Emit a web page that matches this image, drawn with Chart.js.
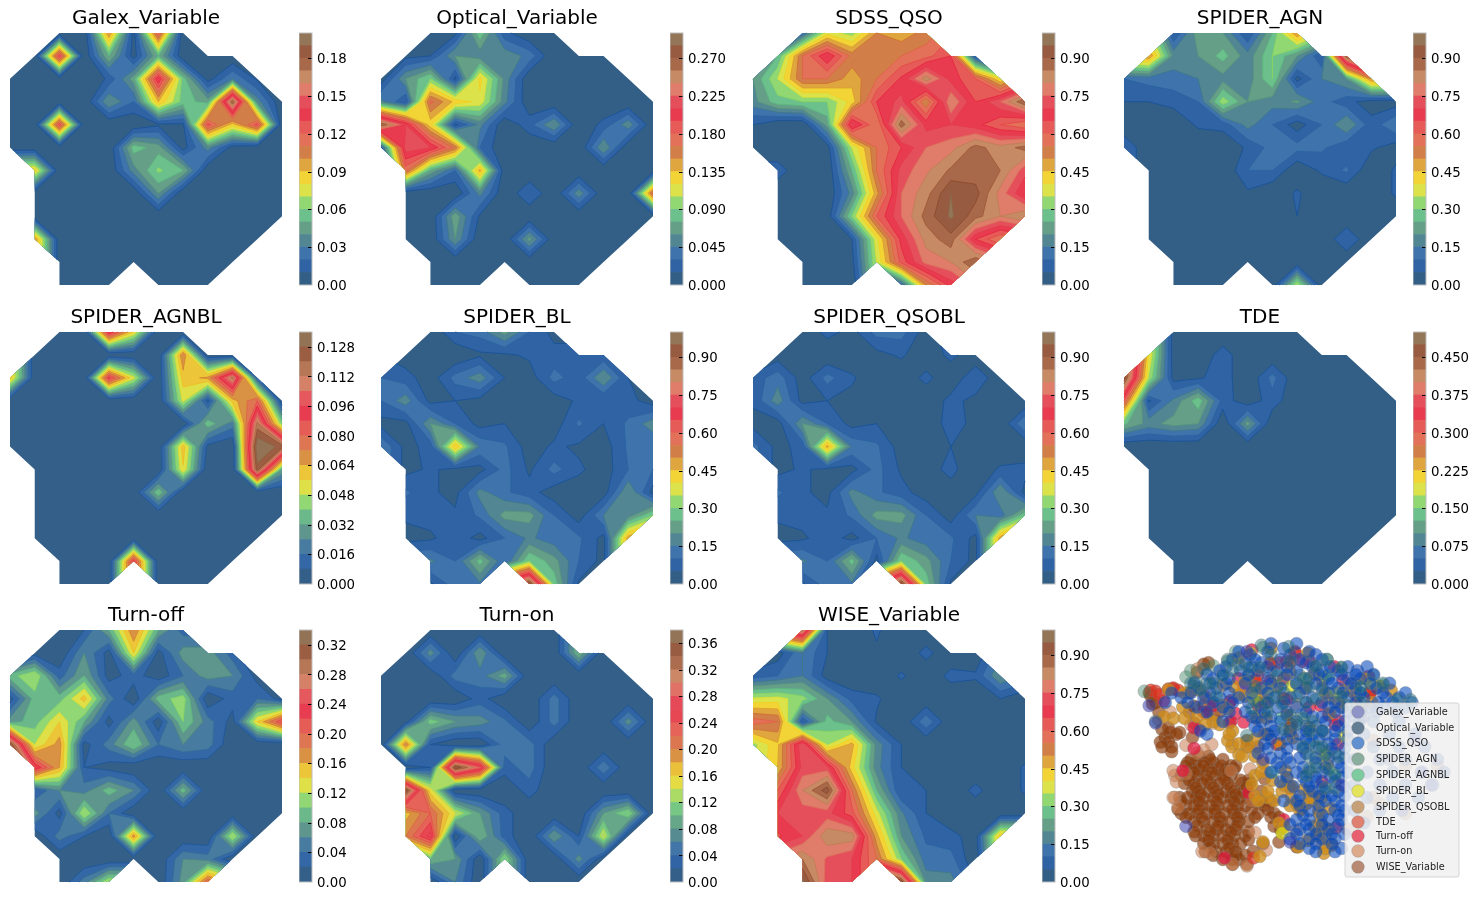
<!DOCTYPE html>
<html><head><meta charset="utf-8">
<style>html,body{margin:0;padding:0;background:#fff;width:1479px;height:900px;overflow:hidden}canvas{position:absolute;display:block}</style>
<script src="https://cdn.jsdelivr.net/npm/chart.js@4"></script>
</head><body>
<script>
const _ = null;
const bandColors = ['#335F87','#2F63A3','#3F73AB','#528693','#669F88','#6CC08B','#92D872','#DBE24A','#F3D436','#DFA63F','#D27E48','#E37058','#E65A58','#E83B50','#E54F5B','#DF7C6A','#C68A65','#A8684A','#975B41','#937558'];

const galex = [
[_,_,0,0,.10,.005,.12,0,_,_,_,_],
[_,0,.13,0,.05,.005,.05,0,0,0,_,_],
[0,0,0,0,.012,.045,.14,.055,.005,.03,.008,_],
[0,0,0,0,.04,.02,.09,.055,.045,.18,.035,0],
[0,0,.125,0,0,0,.008,.008,.125,.085,.125,0],
[0,0,0,0,0,.055,.045,.005,.035,.005,0,0],
[_,.085,0,0,0,.035,.062,.05,0,0,0,0],
[_,0,0,0,0,0,.04,0,0,0,0,0],
[_,0,0,0,0,0,0,0,0,0,0,0],
[_,.10,0,0,0,0,0,0,0,0,0,_],
[_,_,0,0,0,0,0,0,0,0,_,_],
[_,_,0,0,0,_,0,0,0,_,_,_]];
const optical = [
[_,_,0,.01,.085,.02,0,0,_,_,_,_],
[_,.01,.015,.06,.05,.055,.04,0,0,0,_,_],
[.005,.06,.09,.01,.125,.055,0,0,0,0,0,_],
[.05,.015,.17,.13,.115,.05,0,0,0,0,0,0],
[.27,.21,.125,.01,.05,0,.025,.06,0,.02,.055,0],
[.02,.22,.21,.16,.03,0,0,0,0,.06,0,0],
[_,.17,.07,.03,.14,0,0,0,0,0,0,0],
[_,0,0,0,.05,0,.03,0,.055,0,0,.17],
[_,0,0,.07,.012,0,0,0,0,0,0,0],
[_,0,0,.06,0,0,.065,0,0,0,0,_],
[_,_,0,0,0,0,0,0,0,0,_,_],
[_,_,0,0,0,_,0,0,0,_,_,_]];
const sdss = [
[_,_,.1,.38,.32,.5,.47,.52,_,_,_,_],
[_,.25,.55,.7,.53,.52,.55,.58,.65,.05,_,_],
[.2,.35,.55,.55,.47,.55,.66,.83,.68,.6,.4,_],
[.18,.28,.3,.3,.42,.65,.72,.5,.8,.65,.75,.9],
[.05,0,0,.22,.72,.55,.88,.68,.7,.67,.6,.55],
[0,0,0,.02,.35,.55,.65,.75,.78,.87,.82,.87],
[_,.08,0,0,.25,.55,.72,.79,.86,.87,.85,.72],
[_,0,0,0,.17,.48,.75,.83,.95,.92,.78,.65],
[_,0,0,.01,.3,.6,.75,.87,.96,.87,.8,.85],
[_,0,0,0,.05,.38,.67,.82,.88,.65,.55,_],
[_,_,0,0,.03,.35,.62,.77,.8,.9,_,_],
[_,_,0,0,0,_,.1,.5,.67,_,_,_]];
const agn = [
[_,_,.05,.23,.2,.05,.25,.5,_,_,_,_],
[_,.5,.18,.2,.27,.17,.3,.2,.05,.9,_,_],
[.1,.12,.13,.15,.18,.17,.3,.03,.15,.2,.5,_],
[.05,.05,.07,.1,.33,.2,.17,.21,.12,.07,.02,.02],
[0,0,0,.06,.07,.17,.1,.02,.1,.2,.07,.15],
[.1,0,0,0,0,.06,.12,.12,.11,.06,.06,.02],
[_,0,0,0,0,.1,.1,0,.06,.11,0,.06],
[_,0,0,0,0,.04,0,.06,0,0,0,.06],
[_,0,0,0,0,0,0,.05,0,0,0,0],
[_,0,0,0,0,0,0,0,0,.1,0,_],
[_,_,0,0,0,0,0,0,0,0,_,_],
[_,_,0,0,0,_,0,.35,0,_,_,_]];
const agnbl = [
[_,_,0,0,.095,.055,0,0,_,_,_,_],
[_,0,0,0,0,0,0,.072,0,0,_,_],
[.06,0,0,0,.09,.05,0,.06,.066,.115,.01,_],
[0,0,0,0,0,0,0,.05,.005,.06,.08,0],
[0,0,0,0,0,0,0,0,.037,.02,.115,.04],
[0,0,0,0,0,0,0,.06,.005,0,.136,.125],
[_,0,0,0,0,0,0,.055,0,0,.125,.03],
[_,0,0,0,0,0,.038,0,0,0,0,0],
[_,0,0,0,0,0,0,0,0,0,0,0],
[_,0,0,0,0,0,0,0,0,0,0,_],
[_,_,0,0,0,.09,0,0,0,0,_,_],
[_,_,0,0,0,_,0,0,0,_,_,_]];
const bl = [
[_,_,0,.1,.12,.22,.1,.03,_,_,_,_],
[_,.02,0,0,.04,.04,.06,.07,.07,.06,_,_],
[.1,.07,.02,.12,.18,.05,.02,.12,.07,.2,.05,_],
[.1,.18,.03,.05,.03,0,0,.02,.06,.05,.07,.02],
[.03,.03,.2,.1,.03,.05,.01,.02,.11,.05,.11,.18],
[.15,.03,.07,.45,.14,.11,.02,.06,.04,.02,.11,.1],
[_,.03,.06,.03,.03,.12,.04,.12,.06,.02,.1,.1],
[_,.11,.06,.03,.17,.11,.07,.02,.02,.02,.2,.03],
[_,.06,.07,.06,.11,.22,.22,.1,.02,.15,.17,.3],
[_,.03,.04,.08,.03,.1,.16,.12,.11,.03,.48,_],
[_,_,.16,.1,.27,.1,.3,.22,.1,.03,_,_],
[_,_,.04,.13,.14,_,.95,.28,.04,_,_,_]];
const qsobl = [
[_,_,0,.07,.03,.12,.12,.02,_,_,_,_],
[_,.02,0,0,0,.03,.06,0,.07,0,_,_],
[.07,.13,.02,.12,.06,0,0,.07,0,.1,0,_],
[.06,.18,.03,.05,.03,0,0,0,.07,.03,0,0],
[.03,.02,.2,.1,.03,.05,0,0,.08,.03,0,.15],
[.12,.03,.07,.47,.14,.11,.02,.02,.05,0,0,0],
[_,.03,.06,.03,.03,.12,.04,.02,.07,0,.06,.07],
[_,.11,.06,.03,.17,.11,.07,.02,.02,.03,.2,.03],
[_,.06,.07,.06,.11,.22,.22,.1,.02,.15,.12,.28],
[_,.03,.04,.08,.03,.1,.16,.12,.11,.03,.48,_],
[_,_,.16,.1,.27,.03,.3,.22,.1,.03,_,_],
[_,_,.04,.13,.14,_,.95,.28,.04,_,_,_]];
const tde = [
[_,_,.01,0,0,0,0,0,_,_,_,_],
[_,.2,.01,0,.04,0,0,0,0,0,_,_],
[.47,.17,.015,.02,.04,0,.06,0,0,0,0,_],
[.3,.02,.08,.14,.04,.005,.04,0,0,0,0,0],
[.13,.09,.11,.1,0,.11,0,0,0,0,0,0],
[0,0,0,0,0,0,0,0,0,0,0,0],
[_,0,0,0,0,0,0,0,0,0,0,0],
[_,0,0,0,0,0,0,0,0,0,0,0],
[_,0,0,0,0,0,0,0,0,0,0,0],
[_,0,0,0,0,0,0,0,0,0,0,_],
[_,_,0,0,0,0,0,0,0,0,_,_],
[_,_,0,0,0,_,0,0,0,_,_,_]];
const turnOff = [
[_,_,0,.02,.08,.18,.08,.03,_,_,_,_],
[_,.01,0,.06,.01,.14,.01,.07,.07,.03,_,_],
[.09,.12,.03,.08,.01,.03,.005,.04,.07,.06,.01,_],
[.01,.09,.09,.15,.05,0,.09,.11,0,.03,.04,.01],
[.07,.09,.14,.08,.01,.07,.005,.1,.05,.01,.14,.22],
[.32,.12,.17,.01,.05,.1,.04,.06,.05,0,0,0],
[_,.24,.16,.02,.01,0,0,0,0,0,0,0],
[_,.02,.06,.05,.09,.06,0,.09,0,0,0,0],
[_,.07,.01,.12,.04,0,0,0,0,0,0,0],
[_,0,.05,.02,0,.17,0,0,0,.12,0,_],
[_,_,0,0,0,0,0,.06,.05,0,_,_],
[_,_,0,.05,.12,_,0,.07,.2,_,_,_]];
const turnOn = [
[_,_,0,0,0,0,0,0,_,_,_,_],
[_,0,.07,0,.08,0,0,0,.1,0,_,_],
[0,0,0,.05,.05,.09,0,0,0,0,0,_],
[0,0,0,0,.03,0,0,.05,0,0,0,0],
[0,.01,.11,.08,.07,.045,0,.05,0,0,.07,0],
[0,.2,.02,0,0,.05,.05,0,0,0,0,0],
[_,0,.02,.36,.28,.03,.05,0,0,.055,0,0],
[_,.36,.15,0,0,0,.03,0,0,0,0,0],
[_,.17,.22,.14,.08,.03,0,0,0,.08,.12,0],
[_,.2,.27,0,.1,.03,0,.08,.02,.14,0,_],
[_,_,.1,.08,0,.12,0,0,.07,0,_,_],
[_,_,0,.06,0,_,0,0,0,_,_,_]];
const wise = [
[_,_,.85,.05,0,.06,0,0,_,_,_,_],
[_,.02,.15,.05,0,.04,0,.07,0,0,_,_],
[.07,.1,.15,.02,0,0,.06,0,.07,.06,.2,_],
[.36,.37,.32,.2,.08,.06,0,0,0,0,.05,0],
[.58,.55,.05,.27,.2,.04,0,.14,0,0,0,0],
[.33,.44,.75,.34,.47,.18,.05,0,0,0,0,0],
[_,.45,.72,.72,.42,.17,.05,0,0,0,0,.06],
[_,.6,.8,.93,.55,.25,.05,.05,0,.07,0,.06],
[_,.7,.72,.72,.62,.37,.16,.05,0,0,0,0],
[_,.64,.7,.84,.83,.47,.2,.09,.07,.02,.45,_],
[_,_,.85,.74,.7,.55,.3,.12,.12,0,_,_],
[_,_,.97,.72,.7,_,.95,.18,.17,_,_,_]];

const ticksGalex = ['0.00','0.03','0.06','0.09','0.12','0.15','0.18'];
const ticksOptical = ['0.000','0.045','0.090','0.135','0.180','0.225','0.270'];
const ticksUnit = ['0.00','0.15','0.30','0.45','0.60','0.75','0.90'];
const ticksAgnbl = ['0.000','0.016','0.032','0.048','0.064','0.080','0.096','0.112','0.128'];
const ticksTde = ['0.000','0.075','0.150','0.225','0.300','0.375','0.450'];
const ticksTurnOff = ['0.00','0.04','0.08','0.12','0.16','0.20','0.24','0.28','0.32'];
const ticksTurnOn = ['0.00','0.04','0.08','0.12','0.16','0.20','0.24','0.28','0.32','0.36'];

const panelNames = ['Galex_Variable','Optical_Variable','SDSS_QSO','SPIDER_AGN','SPIDER_AGNBL','SPIDER_BL','SPIDER_QSOBL','TDE','Turn-off','Turn-on','WISE_Variable'];
const panelGrids = [galex,optical,sdss,agn,agnbl,bl,qsobl,tde,turnOff,turnOn,wise];
const panelTops = [.2,.3,1,1,.136,1,1,.5,.34,.38,1];
const panelBands = [20,20,20,20,17,20,20,20,17,19,20];
const panelTicks = [ticksGalex,ticksOptical,ticksUnit,ticksUnit,ticksAgnbl,ticksUnit,ticksUnit,ticksTde,ticksTurnOff,ticksTurnOn,ticksUnit];

// scatter values, read in the picture's own units
const sGalex = [215,690,100,310,120,365,405,140,455,480,540,740,930,420,950,520,980,560,700,560,850,480];
const sOptical = [450,120,480,150,380,180,345,170,270,195,410,190,445,190,580,225,620,185,655,165,700,190,430,250,495,280,560,280,590,225,640,260,420,320,515,305,580,350,640,390,470,330,540,340,405,405,600,510,680,530,680,570,650,465,620,440,760,250,830,240,875,290,915,292,120,360,280,240,245,235,535,125,620,505,580,440,720,310,360,200,500,215,540,170,600,250,520,270,470,300,440,300,590,300,610,360,560,370,600,390,520,385,640,440,600,470,660,510,590,530,690,470,650,570,760,300,700,280,620,290,300,240,330,215,230,240,260,260,310,280];
const sSdss = [520,130,415,150,620,150,540,150,400,175,450,175,590,175,320,200,385,200,440,200,500,200,560,200,640,200,690,200,750,200,300,225,350,225,470,225,600,225,660,225,720,225,760,225,255,255,310,255,450,255,510,255,590,255,640,255,690,255,745,255,810,255,200,285,270,285,320,285,380,285,490,285,540,285,610,285,720,285,770,285,840,285,880,285,250,315,330,315,450,315,500,315,560,315,660,315,700,315,790,315,830,315,900,315,420,345,480,345,610,345,640,345,740,345,770,345,430,375,480,375,590,375,620,375,690,375,280,400,470,400,510,400,570,400,610,400,650,400,460,430,560,430,600,430,660,430,440,460,510,460,590,460,680,460,500,490,540,490,620,490,690,490,480,520,560,520,600,520,640,520,720,520,510,550,590,550,620,550,680,550,610,580,650,580,690,580,520,610,560,610,650,610,680,610,600,640,680,640,710,640,560,670,600,670,660,670,700,670,570,700,600,700,660,700,540,730,600,730,640,730,680,730,600,760,700,760,800,360,880,360,770,400,850,400,930,400,800,440,880,440,960,440,740,480,820,480,900,480,1000,480,780,520,860,520,950,520,1020,520,740,560,820,560,900,560,985,560,780,600,860,600,940,600,740,640,820,640,890,640,770,680,
480,115,560,115,380,140,470,140,600,140,360,165,430,165,510,165,570,165,640,165,340,188,420,188,470,188,530,188,610,188,665,188,720,188,780,188,280,212,330,212,410,212,530,212,630,212,700,212,745,212,800,212,240,240,290,240,340,240,400,240,480,240,560,240,620,240,670,240,730,240,790,240,850,240,170,270,230,270,290,270,350,270,420,270,470,270,570,270,660,270,705,270,760,270,830,270,900,270,150,300,220,300,300,300,360,300,410,300,470,300,520,300,590,300,640,300,680,300,745,300,815,300,860,300,920,300,280,330,350,330,400,330,460,330,530,330,590,330,680,330,720,330,760,330,810,330,870,330,330,360,450,360,510,360,560,360,650,360,710,360,755,360,260,390,440,390,490,390,540,390,590,390,640,390,680,390,720,390,480,415,530,415,590,415,630,415,680,415,720,415,470,445,530,445,580,445,630,445,670,445,710,445,480,475,530,475,570,475,620,475,660,475,710,475,510,505,580,505,650,505,700,505,530,535,580,535,620,535,665,535,700,535,550,565,600,565,640,565,710,565,570,595,630,595,670,595,710,595,570,625,630,625,700,625,580,655,640,655,690,655,540,685,590,685,640,685,690,685,560,715,620,715,670,715,710,715,570,745,620,745,670,745,620,770,680,770];
const sAgn = [85,265,230,200,215,220,370,140,455,128,345,165,300,185,655,165,700,190,800,215,830,245,515,240,570,215,620,190,410,215,480,205,560,240,575,340,430,345];
const sAgnbl = [680,525,485,520,510,350,610,420,660,215,760,270];
const sBl = [415,145,470,255,545,250,425,288,650,220,680,268,795,240,708,405,640,475,655,455,515,712];
const sQsobl = [480,130,595,145,380,160,540,205,615,210,330,245,710,262,855,262,820,250,775,225,400,280,430,280,660,285,205,315,345,320,175,350,145,345,465,350,320,370,360,390,548,412,430,415,510,430,358,440,410,440,655,495,525,515,485,545,430,530,455,490,515,580,580,575,540,625,575,635,600,600,625,600,665,635,630,650,635,675,630,705,650,730,670,750,645,775,565,755,595,735,445,785,455,740,430,595,380,465,390,470,545,600,560,620,590,620,610,610,630,640,520,560,530,540,545,565,490,610,470,600,440,610,600,580,640,600,625,720,640,690,615,690,650,760,660,700,570,640,505,680,520,690,450,520,470,580,420,560,430,470,345,420,380,430,350,400,430,260,455,280,500,250,380,275,365,250,400,230,250,260,210,270,160,260,330,310,300,360,210,350,250,345,275,370,585,255,640,230,690,300,740,240,795,300,760,320,665,335,600,380,540,395,470,400,650,270,740,270];
const sTde = [120,265,105,262,130,275,160,258,175,255,190,262,555,140,505,175,478,175,790,265,498,432,425,790,430,230,440,215,480,180,540,175,790,270];
const sTurnOff = [420,135,555,145,578,170,678,188,378,225,478,232,520,225,785,218,750,283,790,268,175,258,145,295,355,295,462,300,520,288,600,315,635,310,370,335,395,362,690,358,505,430,688,432,640,550,520,670,683,695,410,585,205,515,240,445,335,790,350,300,460,250,530,170,600,170,705,230,660,340,395,250,440,310,300,310,270,330,355,360,240,380,255,385,530,290,680,370];
const sTurnOn = [215,435,295,432,250,195,430,235,555,305,700,315,180,600,190,630,180,530,175,515,430,710,465,765,405,815,360,810,265,770,290,775,555,705,640,745,270,450,760,350,800,420,900,650,1000,500,900,500,800,600,720,700,780,660,820,620,175,600,185,550,215,525,230,370,300,365,360,430,250,460,355,515,420,610,415,510,465,520,240,250,280,300,310,320,165,330,130,355];
const sWise = [105,280,110,305,240,312,275,280,270,180,285,175,250,205,225,270,140,385,165,395,195,395,150,410,135,425,170,440,160,425,235,410,240,365,295,310,300,340,255,470,285,470,220,490,245,490,270,490,300,490,230,510,255,510,285,510,315,510,340,510,365,510,200,530,225,530,250,530,275,530,305,530,330,530,355,530,210,555,240,555,265,555,290,555,320,555,345,555,390,555,415,555,235,580,255,580,285,580,310,580,340,580,365,580,395,580,195,600,220,600,245,600,270,600,300,600,330,600,355,600,380,600,405,600,215,625,240,625,265,625,290,625,315,625,345,625,375,625,400,625,460,625,200,650,225,650,250,650,280,650,305,650,335,650,365,650,385,650,440,650,490,650,240,675,270,675,300,675,325,675,350,675,380,675,410,675,280,700,310,700,340,700,370,700,245,720,270,720,300,720,330,720,365,720,400,720,270,745,300,745,330,745,360,745,385,745,455,745,275,770,310,770,340,770,370,770,425,770,330,795,360,795,380,795,460,400,405,440,540,380,540,570,505,740,560,755,
230,480,290,480,330,480,215,500,270,500,325,500,355,500,240,520,295,520,345,520,225,545,280,545,335,545,385,545,410,545,245,568,300,568,355,568,405,568,260,590,315,590,370,590,200,612,255,612,310,612,365,612,420,612,450,612,480,612,190,637,255,637,305,637,360,637,420,637,470,637,215,662,265,662,320,662,375,662,430,662,480,662,505,662,250,688,315,688,375,688,240,708,290,708,355,708,410,708,285,733,345,733,410,733,290,757,350,757,300,782,370,782,400,782,360,810,405,810,120,300,130,330,100,270,160,380,185,400,140,440,170,455,225,330,270,310,280,335,320,330,350,365,405,420,440,440,370,500,460,540,450,580,490,690,510,700,435,350,545,370,530,340];
const scatterSeries = [sGalex,sOptical,sSdss,sAgn,sAgnbl,sBl,sQsobl,sTde,sTurnOff,sTurnOn,sWise];
const scatterFill = ['rgba(40,50,170,.5)','rgba(30,105,115,.45)','rgba(5,72,188,.58)','rgba(50,125,90,.42)','rgba(50,180,110,.5)','rgba(215,220,20,.7)','rgba(205,140,25,.78)','rgba(220,50,30,.7)','rgba(225,20,60,.7)','rgba(200,125,80,.55)','rgba(140,60,10,.66)'];
const legendFill = ['#8F94C8','#627D94','#6090CF','#8AAE9E','#7FCBA0','#E3E35C','#C8A078','#E08070','#E86070','#DDAA8C','#B88A74'];

Chart.defaults.font.family = '"DejaVu Sans", sans-serif';
Chart.defaults.color = '#000';
Chart.defaults.animation = false;

function hex(c){return [1,3,5].map(i=>parseInt(c.substr(i,2),16));}
function sampleColor(t){
  const p=t*20-.5, i=Math.max(0,Math.min(18,Math.floor(p))), f=Math.max(0,Math.min(1,p-i));
  const a=hex(bandColors[i]), b=hex(bandColors[i+1]);
  return a.map((v,k)=>v+(b[k]-v)*f);
}
const css=c=>`rgb(${c.map(v=>Math.round(v)).join(',')})`;
function lineCss(c){return `rgba(${c.map(v=>Math.max(0,Math.round((v-25)/.9))).join(',')},.95)`;}

function cellPolys(corners, L){
  const n=corners.length, verts=[];
  for(let i=0;i<n;i++){
    const a=corners[i], b=corners[(i+1)%n];
    if(a.z>=L) verts.push({x:a.x,y:a.y,cross:false});
    if((a.z>=L)!==(b.z>=L)){
      const t=(L-a.z)/(b.z-a.z);
      verts.push({x:a.x+(b.x-a.x)*t,y:a.y+(b.y-a.y)*t,cross:true});
    }
  }
  if(!verts.length) return [];
  if(n===4 && verts.length===6 && verts.filter(v=>v.cross).length===4){
    const mean=(corners[0].z+corners[1].z+corners[2].z+corners[3].z)/4;
    if(mean<L){
      const iCorner=verts.map((v,i)=>v.cross?-1:i).filter(i=>i>=0);
      return iCorner.map(iC=>[verts[(iC+5)%6],verts[iC],verts[(iC+1)%6]]);
    }
  }
  return [verts];
}

function contourPlugin(grid, top, bands){
  const levels=[], colors=[];
  for(let k=0;k<bands;k++){levels.push(k*top/bands);colors.push(sampleColor((k+.5)/bands));}
  return {id:'contour',beforeDatasetsDraw(chart){
    const {ctx,scales:{x,y}}=chart;
    const cells=[];
    for(let r=0;r<11;r++)for(let c=0;c<11;c++){
      const q=[[c,r],[c+1,r],[c+1,r+1],[c,r+1]].filter(([a,b])=>grid[b][a]!==null)
        .map(([a,b])=>({x:x.getPixelForValue(a),y:y.getPixelForValue(b),z:grid[b][a]}));
      if(q.length>=3) cells.push(q);
    }
    ctx.save();
    levels.forEach((L,k)=>{
      ctx.beginPath();
      cells.forEach(q=>cellPolys(q,L).forEach(p=>{
        p.forEach((v,i)=>i?ctx.lineTo(v.x,v.y):ctx.moveTo(v.x,v.y));
        ctx.closePath();
      }));
      ctx.fillStyle=css(colors[k]);
      ctx.fill();
    });
    ctx.lineWidth=.9;
    levels.forEach((L,k)=>{
      if(!k) return;
      ctx.beginPath();
      cells.forEach(q=>cellPolys(q,L).forEach(p=>{
        p.forEach((v,i)=>{
          const w=p[(i+1)%p.length];
          if(v.cross&&w.cross){ctx.moveTo(v.x,v.y);ctx.lineTo(w.x,w.y);}
        });
      }));
      ctx.strokeStyle=lineCss(colors[k]);
      ctx.stroke();
    });
    ctx.restore();
  }};
}

const barFrame={id:'barFrame',afterDraw(chart){
  const {ctx,chartArea:a,scales:{y}}=chart;
  ctx.save();
  ctx.strokeStyle='#000';ctx.lineWidth=1;
  y.ticks.forEach(t=>{
    if(t.value===0) return;
    const p=Math.round(y.getPixelForValue(t.value))+.5;
    ctx.beginPath();ctx.moveTo(a.right-4,p);ctx.lineTo(a.right,p);ctx.stroke();
  });
  ctx.strokeStyle='#bdbdbd';
  ctx.strokeRect(a.left,a.top,a.right-a.left,a.bottom-a.top);
  ctx.restore();
}};

function addCanvas(l,t,w,h){
  const c=document.createElement('canvas');
  c.width=w;c.height=h;c.style.left=l+'px';c.style.top=t+'px';c.style.width=w+'px';c.style.height=h+'px';
  document.body.appendChild(c);return c;
}
const colX=[10,381,753,1124], rowY=[33,332,630], AXW=272, AXH=252, BARX=289, BARW=13, BARPAD=15;

function nudgeLabels(s){
  if(s._nudged) return;
  s._nudged=true;
  const base=s._computeLabelItems;
  s._computeLabelItems=function(area){
    const items=base.call(this,area);
    items.forEach(it=>{it.textOffset+=1.6;});
    return items;
  };
}

panelNames.forEach((name,i)=>{
  const col=i%4, row=Math.floor(i/4), ax=colX[col], ay=rowY[row];
  const grid=panelGrids[i], top=panelTops[i], bands=panelBands[i];
  const nodes=[];
  grid.forEach((rw,r)=>rw.forEach((v,c)=>{if(v!==null)nodes.push({x:c,y:r});}));
  new Chart(addCanvas(ax-3,ay-33,AXW+6,33+AXH+3),{
    type:'scatter',
    data:{datasets:[{data:nodes,pointRadius:0,pointHoverRadius:0}]},
    options:{responsive:false,
      layout:{padding:{left:3,right:3,top:0,bottom:3}},
      plugins:{legend:{display:false},tooltip:{enabled:false},
        title:{display:true,text:name,font:{size:20,weight:'normal',lineHeight:1.2},color:'#000',padding:{top:7,bottom:2}}},
      scales:{x:{type:'linear',min:0,max:11,display:false},y:{type:'linear',min:0,max:11,reverse:true,display:false}}},
    plugins:[contourPlugin(grid,top,bands)]
  });
  const labels=panelTicks[i];
  const ds=[];
  for(let k=0;k<bands;k++) ds.push({data:[[k*top/bands,(k+1)*top/bands]],backgroundColor:css(sampleColor((k+.5)/bands)),borderWidth:0,barPercentage:1,categoryPercentage:1,grouped:false});
  new Chart(addCanvas(ax+BARX,ay-BARPAD,BARW+62,AXH+2*BARPAD),{
    type:'bar',
    data:{labels:[''],datasets:ds},
    options:{responsive:false,
      layout:{padding:{top:BARPAD,bottom:BARPAD,left:0,right:0}},
      plugins:{legend:{display:false},tooltip:{enabled:false}},
      scales:{x:{display:false},
        y:{position:'right',min:0,max:top,grid:{display:false,drawTicks:false,tickLength:0},border:{display:false},
          afterBuildTicks:s=>{s.ticks=labels.map(v=>({value:parseFloat(v)}));},
          afterFit:s=>{s.width=62;nudgeLabels(s);},
          ticks:{autoSkip:false,padding:5,font:{size:13.3},color:'#000',maxRotation:0,
            callback:(v)=>labels.find(l=>Math.abs(parseFloat(l)-v)<1e-9)}}}},
    plugins:[barFrame]
  });
});

const pairs=a=>{const o=[];for(let i=0;i<a.length;i+=2)o.push({x:a[i],y:a[i+1]});return o;};
const legendPlugin={id:'somLegend',afterDatasetsDraw(chart){
  const {ctx}=chart;
  const L=235,T=103,W=114,H=174;
  const ys=[112,128,143,159,175,191,207,222,236,251,267];
  ctx.save();
  ctx.beginPath();ctx.roundRect(L,T,W,H,2);
  ctx.fillStyle='rgba(240,240,240,.85)';ctx.fill();
  ctx.strokeStyle='rgba(204,204,204,.8)';ctx.lineWidth=1;ctx.stroke();
  ctx.font='9.7px "DejaVu Sans"';ctx.textBaseline='middle';ctx.textAlign='left';
  chart.data.datasets.forEach((d,i)=>{
    ctx.beginPath();ctx.arc(248,ys[i],6.3,0,Math.PI*2);
    ctx.fillStyle=legendFill[i];ctx.fill();
    ctx.strokeStyle='rgba(130,130,130,.5)';ctx.lineWidth=.7;ctx.stroke();
    ctx.fillStyle='#222';ctx.fillText(d.label,266,ys[i]);
  });
  ctx.restore();
}};
new Chart(addCanvas(1110,600,369,300),{
  type:'scatter',
  data:{datasets:panelNames.map((n,i)=>({label:n,data:pairs(scatterSeries[i]),pointRadius:6.5,pointHoverRadius:6.5,
    backgroundColor:scatterFill[i],borderColor:'rgba(125,125,125,.45)',borderWidth:.7}))},
  options:{responsive:false,layout:{padding:0},
    plugins:{legend:{display:false},tooltip:{enabled:false}},
    scales:{x:{type:'linear',min:0,max:1107,display:false},y:{type:'linear',min:0,max:900,reverse:true,display:false}}},
  plugins:[legendPlugin]
});
</script>
</body></html>
